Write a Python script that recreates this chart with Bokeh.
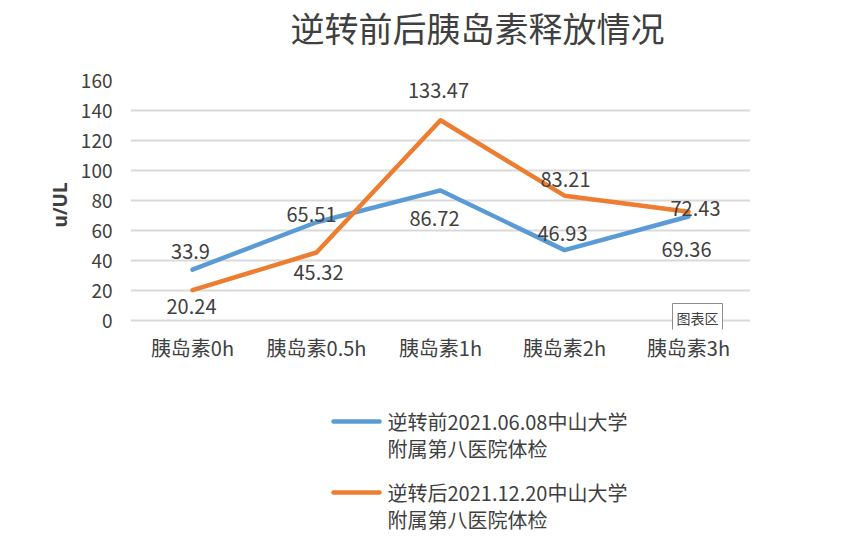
from bokeh.plotting import figure
from bokeh.models import FactorRange, Range1d, ColumnDataSource, Label
from bokeh.layouts import column
from bokeh.core.properties import value
from bokeh.embed import file_html
from bokeh.resources import INLINE

# ---- data ----
categories = ["胰岛素0h", "胰岛素0.5h", "胰岛素1h", "胰岛素2h", "胰岛素3h"]
before = [33.9, 65.51, 86.72, 46.93, 69.36]
after = [20.24, 45.32, 133.47, 83.21, 72.43]
series_names = ["逆转前2021.06.08中山大学\n附属第八医院体检", "逆转后2021.12.20中山大学\n附属第八医院体检"]
title_text = "逆转前后胰岛素释放情况"
y_label = "u/UL"
y_ticks = [0, 20, 40, 60, 80, 100, 120, 140, 160]

# ---- styles ----
BLUE = "#5b9bd5"
ORANGE = "#ed7d31"
TXT = "#404040"
GRID = "#d9d9d9"
CJK = "Noto Sans CJK SC"
# data-label offsets in screen px (dx, dy)
before_off = [(-2, -18), (-5, -8), (-6, 28), (-2, -17), (-2, 33)]
after_off = [(-1, 16), (2, 20), (-2, -30), (1, -16), (7, -3)]

W = 834
H0 = 60     # title strip
H1 = 328    # chart
H2 = 150    # legend strip


def blank(height, y0):
    f = figure(width=W, height=height, x_range=Range1d(0, W), y_range=Range1d(y0 + height, y0),
               x_axis_type=None, y_axis_type=None, output_backend="svg", toolbar_location=None,
               min_border=0, min_border_left=0, min_border_right=0,
               min_border_top=0, min_border_bottom=0, frame_align=False)
    f.grid.visible = False
    f.outline_line_color = None
    return f


# ---- title strip ----
t = blank(H0, 0)
t.text([477], [27], text=[title_text], text_align="center", text_baseline="middle",
       text_font=value(CJK), text_font_size="34px", text_color=TXT)

# ---- chart ----
p = figure(width=W, height=H1, x_range=FactorRange(*categories, range_padding=0),
           y_range=Range1d(-6, 160), output_backend="svg", toolbar_location=None,
           min_border_left=130, min_border_right=W - 750, min_border_top=20, min_border_bottom=59,
           frame_align=False)
p.outline_line_color = None

p.xgrid.grid_line_color = None
p.ygrid.grid_line_color = GRID
p.ygrid.grid_line_width = 2
p.yaxis.ticker = y_ticks
p.yaxis.axis_line_color = None
p.yaxis.major_tick_line_color = None
p.yaxis.minor_tick_line_color = None
p.yaxis.major_tick_out = 0
p.yaxis.major_tick_in = 0
p.yaxis.major_label_text_font = CJK
p.yaxis.major_label_text_font_size = "19px"
p.yaxis.major_label_text_color = TXT
p.yaxis.major_label_standoff = 18
p.yaxis.axis_label = y_label
p.yaxis.axis_label_text_font = "Noto Sans"
p.yaxis.axis_label_text_font_style = "bold"
p.yaxis.axis_label_text_font_size = "19px"
p.yaxis.axis_label_text_color = TXT
p.yaxis.axis_label_standoff = 5

p.xaxis.axis_line_color = None
p.xaxis.major_tick_line_color = None
p.xaxis.minor_tick_line_color = None
p.xaxis.major_tick_out = 0
p.xaxis.major_tick_in = 0
p.xaxis.major_label_text_font = CJK
p.xaxis.major_label_text_font_size = "20px"
p.xaxis.major_label_text_color = TXT
p.xaxis.major_label_standoff = 3

sources = []
for vals, offs in ((before, before_off), (after, after_off)):
    sources.append(ColumnDataSource(dict(
        x=categories, y=vals, t=[str(v) for v in vals],
        dx=[o[0] for o in offs], dy=[o[1] for o in offs])))

for src, color in zip(sources, (BLUE, ORANGE)):
    p.line("x", "y", source=src, line_color=color, line_width=4.5,
           line_cap="round", line_join="round")

for src in sources:
    p.text("x", "y", text="t", source=src, x_offset="dx", y_offset="dy",
           text_align="center", text_baseline="middle",
           text_font=value(CJK), text_font_size="20px", text_color=TXT)

# chart-area tooltip box
p.add_layout(Label(x=567, y=12, x_units="screen", y_units="screen", text="图表区",
                   text_align="center", text_baseline="middle", text_font=CJK,
                   text_font_size="14px", text_color=TXT,
                   background_fill_color="white", border_line_color="#8c8c8c",
                   padding=4))

# ---- legend strip ----
q = blank(H2, H0 + H1)
legend_colors = [BLUE, ORANGE]
legend_rows = [421, 492]
for name, color, y0 in zip(series_names, legend_colors, legend_rows):
    q.line([333, 379], [y0, y0], line_color=color, line_width=4.5, line_cap="round")
    lines = name.split("\n")
    q.text([387] * len(lines), [y0 + 27 * i for i in range(len(lines))], text=lines,
           text_align="left", text_baseline="middle", text_font=value(CJK),
           text_font_size="20px", text_color=TXT)

layout = column(t, p, q, spacing=0)
open("out.html", "w").write(file_html(layout, INLINE))
